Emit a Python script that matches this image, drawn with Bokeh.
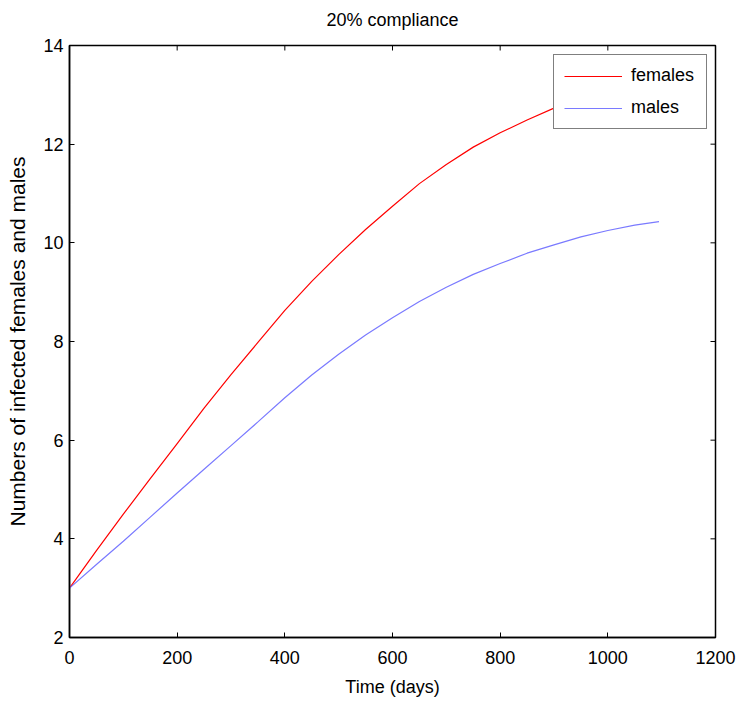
from bokeh.plotting import figure
from bokeh.models import Range1d, FixedTicker, Legend, LegendItem, LinearAxis
from bokeh.embed import file_html
from bokeh.resources import INLINE

# ---- data ----
time_days = [0, 50, 100, 150, 200, 250, 300, 350, 400, 450, 500, 550, 600,
             650, 700, 750, 800, 850, 900, 950, 1000, 1050, 1095]
females = [3.00, 3.76, 4.50, 5.22, 5.93, 6.65, 7.33, 7.98, 8.63, 9.22, 9.76,
           10.27, 10.74, 11.20, 11.59, 11.94, 12.23, 12.49, 12.73, 12.95,
           13.14, 13.30, 13.42]
males = [3.00, 3.48, 3.95, 4.44, 4.93, 5.41, 5.89, 6.37, 6.86, 7.32, 7.74,
         8.13, 8.48, 8.81, 9.10, 9.36, 9.58, 9.79, 9.96, 10.12, 10.25, 10.36,
         10.43]
x_ticks = [0, 200, 400, 600, 800, 1000, 1200]
y_ticks = [2, 4, 6, 8, 10, 12, 14]
x_min, x_max = 0, 1200
y_min, y_max = 2, 14
title_text = "20% compliance"

FONT = "Liberation Sans"

p = figure(width=740, height=701, output_backend="svg", toolbar_location=None,
           x_range=Range1d(x_min, x_max), y_range=Range1d(y_min, y_max),
           min_border_left=69, min_border_right=25, min_border_top=45,
           min_border_bottom=64)
p.background_fill_color = "white"
p.border_fill_color = "white"
p.outline_line_color = "black"
p.outline_line_width = 1.5
p.grid.visible = False

bottom_ax = p.below[0]
left_ax = p.left[0]

for ax, ticks in ((bottom_ax, x_ticks), (left_ax, y_ticks)):
    ax.ticker = FixedTicker(ticks=ticks)
    ax.major_tick_in = 5
    ax.major_tick_out = 0
    ax.minor_tick_line_color = None
    ax.axis_line_width = 1.5
    ax.axis_line_color = "black"
    ax.major_tick_line_color = "black"
    ax.major_tick_line_width = 1
    ax.major_label_text_font = FONT
    ax.major_label_text_font_size = "18px"
    ax.major_label_text_color = "black"
    ax.axis_label_text_font = FONT
    ax.axis_label_text_font_style = "normal"
    ax.axis_label_text_color = "black"

bottom_ax.major_label_standoff = 13
left_ax.major_label_standoff = 6
bottom_ax.axis_label = "Time (days)"
left_ax.axis_label = "Numbers of infected females and males"
bottom_ax.axis_label_text_font_size = "18px"
left_ax.axis_label_text_font_size = "21px"
bottom_ax.axis_label_standoff = 10
left_ax.axis_label_standoff = 11

# title: label of a tick-less axis above the frame (centred over the frame)
title_axis = LinearAxis(ticker=FixedTicker(ticks=[]), axis_label=title_text,
                        axis_line_color=None, major_tick_line_color=None,
                        minor_tick_line_color=None,
                        axis_label_text_font=FONT, axis_label_text_font_size="18px",
                        axis_label_text_font_style="normal",
                        axis_label_text_color="black", axis_label_standoff=16)
p.add_layout(title_axis, "above")

# inward tick marks on the top and right edges of the box (MATLAB style)
tick_len_y = (y_max - y_min) * 5 / 592
tick_len_x = (x_max - x_min) * 5 / 646
p.segment(x0=x_ticks, y0=[y_max] * len(x_ticks), x1=x_ticks,
          y1=[y_max - tick_len_y] * len(x_ticks), line_color="black", line_width=1)
p.segment(x0=[x_max] * len(y_ticks), y0=y_ticks, x1=[x_max - tick_len_x] * len(y_ticks),
          y1=y_ticks, line_color="black", line_width=1)

r_f = p.line(time_days, females, line_color="#ff0000", line_width=1.2)
r_m = p.line(time_days, males, line_color="#7a7aff", line_width=1.2)

legend = Legend(items=[LegendItem(label="females", renderers=[r_f]),
                       LegendItem(label="males", renderers=[r_m])],
                location=(484, 508), margin=0, padding=10, spacing=11,
                glyph_width=58, glyph_height=20, label_height=20,
                label_width=65, label_standoff=9,
                label_text_font=FONT, label_text_font_size="18px",
                label_text_color="black",
                border_line_color="black", border_line_width=1.5,
                background_fill_color="white", background_fill_alpha=1.0)
p.add_layout(legend, "center")

open("out.html", "w").write(file_html(p, INLINE))
